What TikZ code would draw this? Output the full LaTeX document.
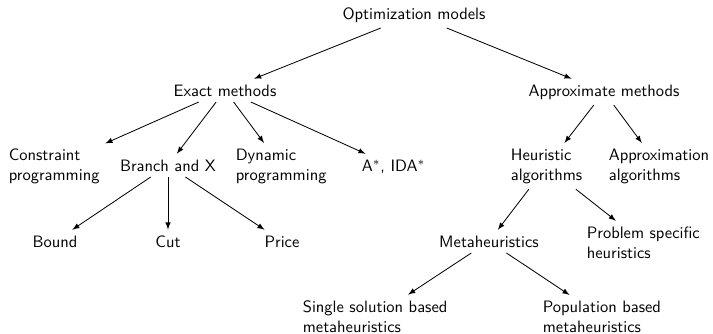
\documentclass[tikz,border=0pt]{standalone}
\usetikzlibrary{arrows}
\begin{document}
\begin{tikzpicture}[x=0.606pt, y=-0.606pt,
  every node/.style={font=\sffamily},
  lbl/.style={anchor=base},
  lblL/.style={anchor=base west, align=left},
  link/.style={-latex, line width=0.5pt}]
  \useasboundingbox (0,0) rectangle (713,333);

  % root and first level
  \node[lbl] (opt) at (414,19) {Optimization models};
  \node[lbl] (exact) at (225,96) {Exact methods};
  \node[lbl] (approx) at (604,96) {Approximate methods};

  % exact methods (two-line labels are placed by their last baseline)
  \node[lblL] (cons) at (3,180) {Constraint\\programming};
  \node[lbl] (branch) at (168,171) {Branch and X};
  \node[lblL] (dyn) at (230,180) {Dynamic\\programming};
  \node[lblL] (astar) at (356,171) {A$^*$, IDA$^*$};

  % branch and X
  \node[lbl] (bound) at (55,247) {Bound};
  \node[lbl] (cut) at (168,247) {Cut};
  \node[lbl] (price) at (282,247) {Price};

  % approximate methods
  \node[lblL] (heur) at (505,180) {Heuristic\\algorithms};
  \node[lblL] (apxalg) at (603,180) {Approximation\\algorithms};
  \node[lbl] (meta) at (489,247) {Metaheuristics};
  \node[lblL] (prob) at (581,258) {Problem specific\\heuristics};
  \node[lblL] (single) at (297,332) {Single solution based\\metaheuristics};
  \node[lblL] (pop) at (537,332) {Population based\\metaheuristics};

  % connectors
  \draw[link] (opt) -- (exact);
  \draw[link] (opt) -- (approx);
  \draw[link] (exact) -- (cons);
  \draw[link] (exact) -- (branch);
  \draw[link] (exact) -- (dyn);
  \draw[link] (exact) -- (astar);
  \draw[link] (branch) -- (bound);
  \draw[link] (branch) -- (cut);
  \draw[link] (branch) -- (price);
  \draw[link] (approx) -- (heur);
  \draw[link] (approx) -- (apxalg);
  \draw[link] (heur) -- (meta);
  \draw[link] (heur) -- (prob);
  \draw[link] (meta) -- (single);
  \draw[link] (meta) -- (pop);
\end{tikzpicture}
\end{document}
